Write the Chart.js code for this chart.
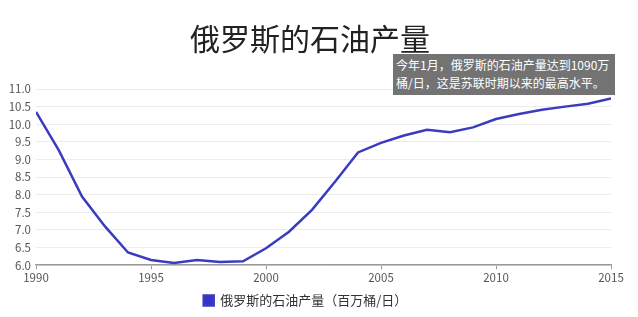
<!DOCTYPE html>
<html>
<head>
<meta charset="utf-8">
<script src="https://cdn.jsdelivr.net/npm/chart.js@4/dist/chart.umd.min.js"></script>
<style>
  body { margin: 0; background: #fff; font-family: "Noto Sans CJK SC", sans-serif; }
  #wrap { position: relative; width: 638px; height: 317px; }
  #title { position: absolute; left: 0; width: 620px; top: 17px; text-align: center; font-size: 30px; color: #222; line-height: 40px; }
  #note { position: absolute; left: 393px; top: 54px; width: 216px; height: 37px; padding: 2px 3px; background: #737373; color: #fff; font-size: 12px; line-height: 18px; white-space: nowrap; overflow: hidden; }
</style>
</head>
<body>
<div id="wrap">
  <canvas id="myChart" width="638" height="317"></canvas>
  <div id="title">俄罗斯的石油产量</div>
  <div id="note">今年1月，俄罗斯的石油产量达到1090万<br>桶/日，这是苏联时期以来的最高水平。</div>
</div>
<script>
// 年份与产量（百万桶/日）
const years = [1990, 1991, 1992, 1993, 1994, 1995, 1996, 1997, 1998, 1999,
               2000, 2001, 2002, 2003, 2004, 2005, 2006, 2007, 2008, 2009,
               2010, 2011, 2012, 2013, 2014, 2015];
const output = [10.35, 9.25, 7.95, 7.1, 6.36, 6.15, 6.06, 6.15, 6.09, 6.11,
                6.48, 6.95, 7.57, 8.37, 9.2, 9.47, 9.68, 9.84, 9.77, 9.91,
                10.15, 10.29, 10.41, 10.5, 10.58, 10.73];
const seriesName = '俄罗斯的石油产量（百万桶/日）';

const ctx = document.getElementById('myChart').getContext('2d');
new Chart(ctx, {
    type: 'line',
    data: {
        datasets: [{
            label: seriesName,
            data: years.map((y, i) => ({ x: y, y: output[i] })),
            borderColor: '#3b3bbf',
            backgroundColor: '#3333cc',
            borderWidth: 2.5,
            pointRadius: 0,
            tension: 0
        }]
    },
    options: {
        responsive: false,
        animation: false,
        layout: { padding: { top: 89, right: 27, left: 0, bottom: 0 } },
        plugins: {
            legend: {
                position: 'bottom',
                labels: {
                    boxWidth: 10,
                    boxHeight: 10,
                    color: '#333',
                    font: { family: 'Noto Sans CJK SC', size: 13 },
                    padding: 7
                }
            },
            tooltip: { enabled: false }
        },
        scales: {
            x: {
                type: 'linear',
                min: 1990,
                max: 2015,
                ticks: {
                    stepSize: 5,
                    color: '#555',
                    font: { family: 'Noto Sans CJK SC', size: 11.5 },
                    padding: 2,
                    callback: v => String(v)
                },
                grid: { drawOnChartArea: false, tickLength: 4, color: '#999' },
                border: { color: '#999', width: 1.5 }
            },
            y: {
                min: 6,
                max: 11,
                afterFit: s => { s.width = 36; },
                ticks: {
                    stepSize: 0.5,
                    color: '#555',
                    font: { family: 'Noto Sans CJK SC', size: 11.5 },
                    padding: 5,
                    callback: v => v.toFixed(1)
                },
                grid: { color: '#ececec', drawTicks: false },
                border: { display: false }
            }
        }
    }
});
</script>
</body>
</html>
